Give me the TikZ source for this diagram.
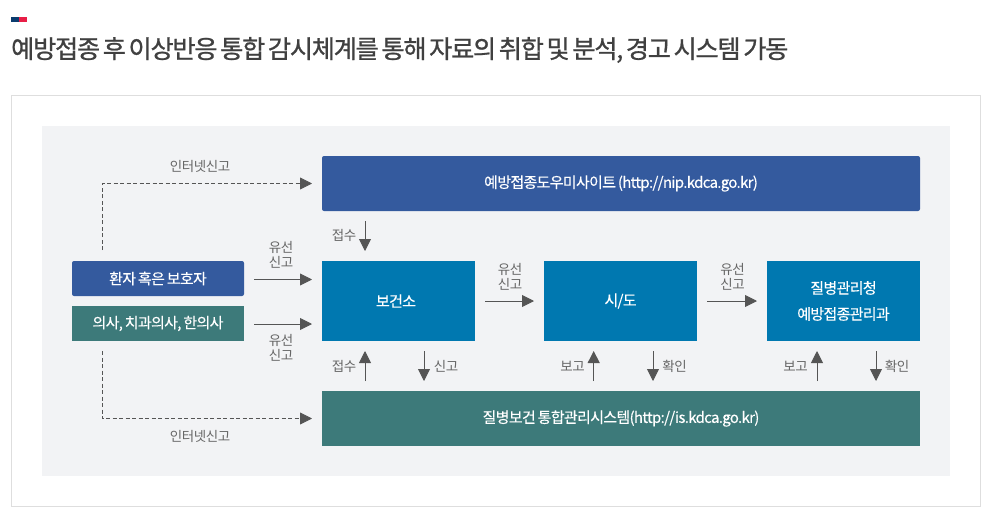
\documentclass[tikz,border=0pt]{standalone}
\usepackage{fontspec}
\setmainfont{Noto Sans CJK KR}
\newfontfamily\titlefont[LetterSpace=-5,WordSpace=0.6,FakeBold=0.9]{Noto Sans CJK KR}
\newfontfamily\boxfont[LetterSpace=-4.5,WordSpace=0.7,FakeBold=0.25]{Noto Sans CJK KR}
\newfontfamily\lblfont[LetterSpace=-3]{Noto Sans CJK KR}
\usetikzlibrary{arrows.meta,calc}
\definecolor{framec}{HTML}{DEDEDE}
\definecolor{panelc}{HTML}{F2F3F5}
\definecolor{bluec}{HTML}{345A9E}
\definecolor{tealc}{HTML}{3D7A7A}
\definecolor{cyanc}{HTML}{0078B0}
\definecolor{arrowc}{HTML}{555555}
\definecolor{lblc}{HTML}{666666}
\definecolor{titlec}{HTML}{404040}
\tikzset{
  x=1pt,y=-1pt,
  boxbase/.style={anchor=north west,inner sep=0pt,outer sep=0pt,text=white,align=center,font=\boxfont\fontsize{15}{26}\selectfont},
  bluebox/.style={boxbase,fill=bluec,rounded corners=2pt},
  tealbox/.style={boxbase,fill=tealc},
  cyanbox/.style={boxbase,fill=cyanc},
  arrowline/.style={draw=arrowc,line width=0.9pt,-{Triangle[length=12pt,width=12pt]},shorten >=10pt,shorten <=10pt},
  dashline/.style={draw=arrowc,line width=0.8pt,dash pattern=on 4pt off 2.5pt,-{Triangle[length=12pt,width=12pt]},shorten >=10pt},
  lbl/.style={text=lblc,inner sep=0pt,align=center,font=\lblfont\fontsize{13.5}{14.5}\selectfont},
}
\begin{document}
\begin{tikzpicture}
\useasboundingbox (0,0) rectangle (989,515);
\fill[white] (0,0) rectangle (989,515);
% header mark
\fill[fill={rgb,255:red,11;green,60;blue,110}] (11,17) rectangle (19,22);
\fill[fill={rgb,255:red,232;green,30;blue,70}] (19,17) rectangle (27,22);
\node[anchor=west,inner sep=0pt,text=titlec,font=\titlefont\fontsize{25.2}{28}\selectfont] (title) at (11,50) {예방접종 후 이상반응 통합 감시체계를 통해 자료의 취합 및 분석, 경고 시스템 가동};
% frame and panel
\draw[framec,line width=1pt] (11.5,95.5) rectangle (980.5,506);
\fill[panelc] (42,126) rectangle (950,476);
% boxes
\node[bluebox,minimum width=598pt,minimum height=55pt] (nip) at (322,156) {예방접종도우미사이트 (http://nip.kdca.go.kr)};
\node[bluebox,minimum width=172pt,minimum height=35pt] (patient) at (72,261) {환자 혹은 보호자};
\node[tealbox,minimum width=172pt,minimum height=35pt] (doctor) at (72,306) {의사, 치과의사, 한의사};
\node[cyanbox,minimum width=153pt,minimum height=80pt] (bogeon) at (322,261) {\hspace*{-5pt}보건소};
\node[cyanbox,minimum width=153pt,minimum height=80pt] (sido) at (544,261) {시/도};
\node[cyanbox,minimum width=153pt,minimum height=80pt] (kdca) at (767,261) {질병관리청\\예방접종관리과};
\node[tealbox,minimum width=598pt,minimum height=55pt] (is) at (322,391) {질병보건 통합관리시스템(http://is.kdca.go.kr)};
% free ends
\coordinate (dashtop) at (102,250);
\coordinate (dashbot) at (102,351);
\coordinate (xa) at (365,0);
\coordinate (xb) at (424,0);
\coordinate (xc) at (593.7,0);
\coordinate (xd) at (653,0);
\coordinate (xe) at (817,0);
\coordinate (xf) at (876,0);
% connectors
\draw[dashline] (dashtop) |- (nip.west);
\draw[dashline] (dashbot) |- (is.west);
\draw[arrowline] ($(patient.east)+(0,1)$) -- ($(patient.east)+(78,1)$);
\draw[arrowline] ($(doctor.east)+(0,0.5)$) -- ($(doctor.east)+(78,0.5)$);
\draw[arrowline] (bogeon.east) -- (sido.west);
\draw[arrowline] (sido.east) -- (kdca.west);
\draw[arrowline] (xa |- nip.south) -- (xa |- bogeon.north);
\draw[arrowline] (xa |- is.north) -- (xa |- bogeon.south);
\draw[arrowline] (xb |- bogeon.south) -- (xb |- is.north);
\draw[arrowline] (xc |- is.north) -- (xc |- sido.south);
\draw[arrowline] (xd |- sido.south) -- (xd |- is.north);
\draw[arrowline] (xe |- is.north) -- (xe |- kdca.south);
\draw[arrowline] (xf |- kdca.south) -- (xf |- is.north);
% labels
\node[lbl] (l1) at (200,166.5) {인터넷신고};
\node[lbl] (l2) at (200,436) {인터넷신고};
\node[lbl] (l3) at (344,235.5) {접수};
\node[lbl] (l4) at (281,255) {유선\\신고};
\node[lbl] (l5) at (281,348) {유선\\신고};
\node[lbl] (l6) at (510,277) {유선\\신고};
\node[lbl] (l7) at (732.5,277) {유선\\신고};
\node[lbl] (l8) at (344,366) {접수};
\node[lbl] (l9) at (446,366) {신고};
\node[lbl] (l10) at (572.5,366) {보고};
\node[lbl] (l11) at (674.5,366) {확인};
\node[lbl] (l12) at (795.5,366) {보고};
\node[lbl] (l13) at (897,366) {확인};
\end{tikzpicture}
\end{document}
